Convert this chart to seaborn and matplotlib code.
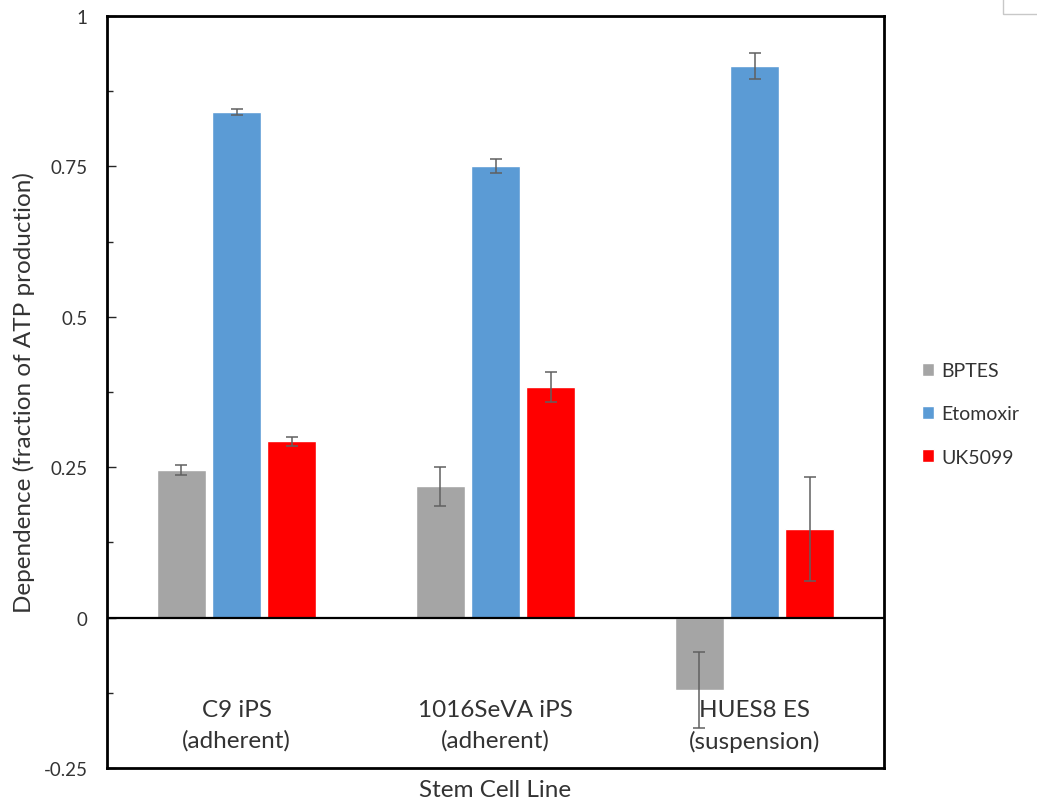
import numpy as np
import pandas as pd
import seaborn as sns
import matplotlib.pyplot as plt
from matplotlib.ticker import MultipleLocator, FixedLocator
from matplotlib.patches import Rectangle

# values
cell_lines = ["C9 iPS\n(adherent)", "1016SeVA iPS\n(adherent)", "HUES8 ES\n(suspension)"]
inhibitors = ["BPTES", "Etomoxir", "UK5099"]
bptes = [0.245, 0.218, -0.120]
etomoxir = [0.840, 0.751, 0.917]
uk5099 = [0.293, 0.384, 0.147]
bptes_err = [0.008, 0.032, 0.063]
etomoxir_err = [0.005, 0.012, 0.022]
uk5099_err = [0.008, 0.025, 0.086]
colors = ["#A5A5A5", "#5B9BD5", "#FF0000"]
ytick_vals = [-0.25, 0, 0.25, 0.5, 0.75, 1]
ytick_labels = ["-0.25", "0", "0.25", "0.5", "0.75", "1"]

df = pd.DataFrame({
    "line": cell_lines * 3,
    "inhibitor": np.repeat(inhibitors, 3),
    "value": bptes + etomoxir + uk5099,
    "err": bptes_err + etomoxir_err + uk5099_err,
})

sns.set_style("white")
plt.rcParams["font.family"] = ["Lato", "DejaVu Sans"]
txt = "#333333"

fig = plt.figure(figsize=(10.37, 8.04), dpi=100)
ax = fig.add_axes([0.1032, 0.0435, 0.7493, 0.9354])

sns.barplot(data=df, x="line", y="value", hue="inhibitor", order=cell_lines,
            hue_order=inhibitors, palette=colors, width=0.64, gap=0.12,
            errorbar=None, saturation=1, ax=ax)

# error bars at the bar centres that seaborn placed
for cont, name in zip(ax.containers, inhibitors):
    sub = df[df.inhibitor == name].set_index("line").loc[cell_lines]
    xs = [b.get_x() + b.get_width() / 2 for b in cont]
    ax.errorbar(xs, sub["value"], yerr=sub["err"], fmt="none",
                ecolor="#606060", elinewidth=1.1, capsize=4, capthick=1.1, zorder=5)

ax.set_ylim(-0.25, 1)
ax.set_xlim(-0.5, 2.5)
ax.axhline(0, color="black", lw=1.6, zorder=4)

ax.yaxis.set_major_locator(FixedLocator(ytick_vals))
ax.set_yticklabels(ytick_labels)
ax.yaxis.set_minor_locator(MultipleLocator(0.125))
ax.tick_params(axis="y", which="major", direction="in", length=6.5, width=1,
               pad=14, labelsize=13.5, labelcolor=txt, left=True)
ax.tick_params(axis="y", which="minor", direction="in", length=4.3, width=1, left=True)
ax.tick_params(axis="x", bottom=False, labelbottom=False)

for i, lab in enumerate(cell_lines):
    ax.text(i, -0.136, lab, ha="center", va="top", fontsize=17.5, color=txt,
            linespacing=1.5)

for s in ax.spines.values():
    s.set_visible(True)
    s.set_color("black")
    s.set_linewidth(2)

ax.set_xlabel("Stem Cell Line", fontsize=17.5, color=txt, labelpad=8)
ax.set_ylabel("Dependence (fraction of ATP production)", fontsize=17.5,
              color=txt, labelpad=6)

handles, labels = ax.get_legend_handles_labels()
ax.legend(handles, labels, frameon=False, loc="center left",
          bbox_to_anchor=(0.889, 0.484), bbox_transform=fig.transFigure,
          fontsize=14, handlelength=0.62, handleheight=0.62,
          handletextpad=0.36, labelspacing=1.35, borderpad=0, borderaxespad=0,
          labelcolor=txt)

# small stray box in the top right corner of the screenshot
fig.patches.append(Rectangle((1003 / 1037, 1 - 15 / 804), 0.05, 0.05,
                             transform=fig.transFigure, fill=False,
                             edgecolor="#c8c8c8", lw=1))

fig.savefig("out.png", dpi=100)
